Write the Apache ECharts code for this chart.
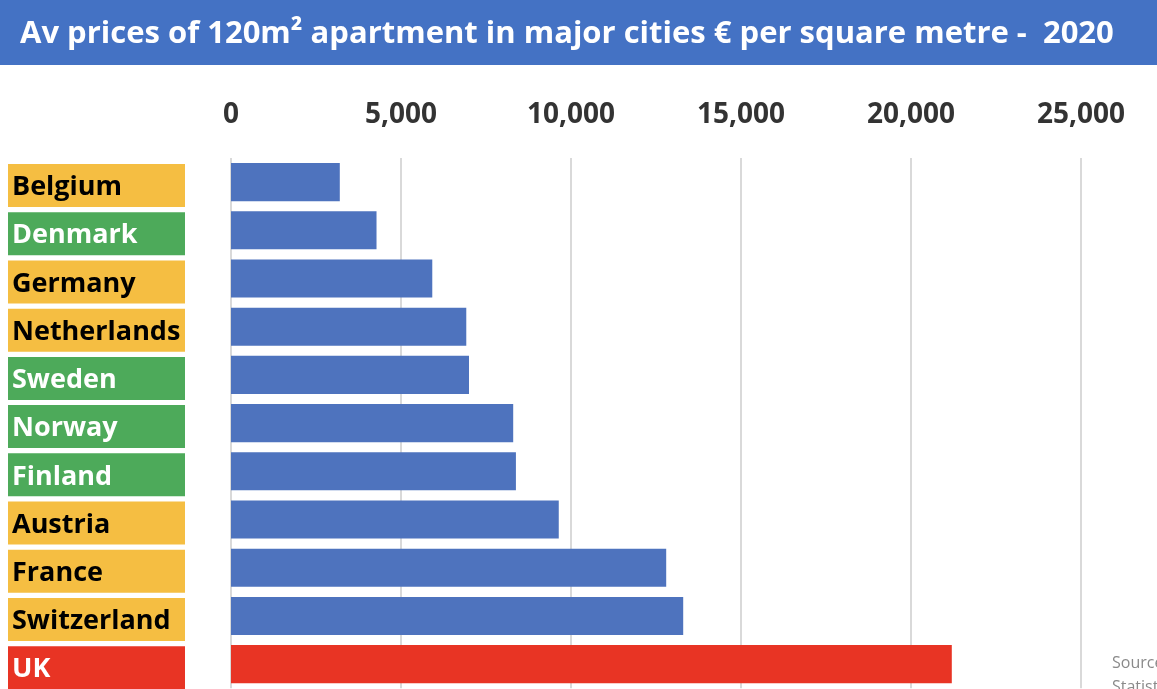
<!DOCTYPE html>
<html>
  <head>
    <meta charset="utf-8">
    <title>Apartment prices 2020</title>
    <style>
      html, body { margin: 0; padding: 0; background: #fff; }
      #main { width: 1157px; height: 689px; }
    </style>
    <script src="https://cdn.jsdelivr.net/npm/echarts@6/dist/echarts.min.js"></script>
  </head>
  <body>
    <div id="main"></div>
    <script type="text/javascript">

      // data
      var countries = ['Belgium', 'Denmark', 'Germany', 'Netherlands', 'Sweden', 'Norway', 'Finland', 'Austria', 'France', 'Switzerland', 'UK']
      var prices = [3200, 4280, 5920, 6920, 7000, 8300, 8380, 9640, 12800, 13300, 21200]
      // label group: o = orange, g = green, r = red
      var groups = ['o', 'g', 'o', 'o', 'g', 'g', 'g', 'o', 'o', 'o', 'r']
      var xTicks = [0, 5000, 10000, 15000, 20000, 25000]

      var blue = '#4E73BE'
      var red = '#E83424'
      var labelFont = '"Open Sans", sans-serif'

      function box(bg, fg) {
        return {
          backgroundColor: bg,
          color: fg,
          width: 173,
          height: 39,
          padding: [4, 0, 0, 4],
          fontSize: 27,
          fontWeight: 'bold',
          fontFamily: labelFont
        }
      }

      var myChart = echarts.init(document.getElementById('main'))

      var option = {
        animation: false,
        backgroundColor: '#fff',
        graphic: [
          {
            type: 'rect',
            shape: { x: 0, y: 0, width: 1157, height: 65 },
            style: { fill: '#4472C4' }
          },
          {
            type: 'text',
            left: 20,
            top: 19,
            style: {
              text: 'Av prices of 120m² apartment in major cities € per square metre -  2020',
              fill: '#fff',
              font: 'bold 31px "Open Sans", sans-serif'
            }
          },
          {
            type: 'text',
            left: 1112,
            top: 651,
            style: {
              text: 'Source:\nStatista',
              fill: '#8a8a8a',
              font: '16px "Open Sans", sans-serif',
              lineHeight: 24
            }
          }
        ],
        grid: {
          left: 231,
          right: 76,
          top: 158,
          height: 533
        },
        xAxis: {
          type: 'value',
          position: 'top',
          min: 0,
          max: 25000,
          interval: 5000,
          axisLine: { show: false },
          axisTick: { show: false },
          splitLine: { lineStyle: { color: '#d9d9d9', width: 2 } },
          axisLabel: {
            margin: 29,
            color: '#333',
            fontSize: 28,
            fontWeight: 'bold',
            fontFamily: labelFont,
            formatter: function (v) {
              return xTicks.indexOf(v) >= 0 ? v.toLocaleString('en-US') : ''
            }
          }
        },
        yAxis: {
          type: 'category',
          data: countries,
          inverse: true,
          axisLine: { show: false },
          axisTick: { show: false },
          axisLabel: {
            align: 'left',
            margin: 223,
            padding: [7, 0, 0, 0],
            formatter: function (v, i) {
              return '{' + groups[i] + '|' + v + '}'
            },
            rich: {
              o: box('#F5BE42', '#000'),
              g: box('#4DAA5A', '#fff'),
              r: box('#E83424', '#fff')
            }
          }
        },
        series: [{
          type: 'bar',
          barCategoryGap: '21%',
          data: prices.map(function (p, i) {
            return { value: p, itemStyle: { color: groups[i] === 'r' ? red : blue } }
          })
        }]
      }

      myChart.setOption(option)
    </script>
  </body>
</html>
